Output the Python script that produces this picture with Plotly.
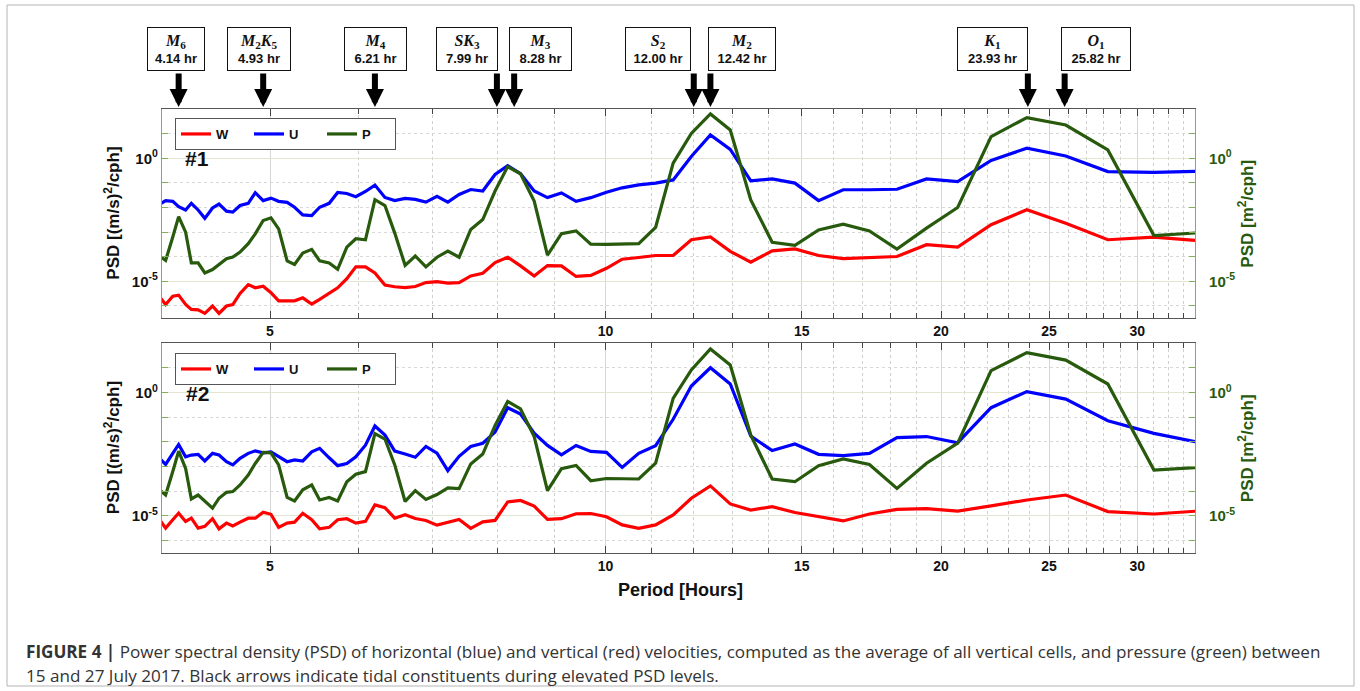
import numpy as np
import plotly.graph_objects as go

# ---------------- data ----------------
period_hr = [3.98, 4.03, 4.09, 4.14, 4.20, 4.25, 4.31, 4.37, 4.44, 4.50,
             4.57, 4.63, 4.70, 4.78, 4.85, 4.93, 5.01, 5.09, 5.18, 5.26,
             5.35, 5.45, 5.54, 5.65, 5.75, 5.86, 5.97, 6.09, 6.21, 6.34,
             6.47, 6.61, 6.75, 6.90, 7.06, 7.22, 7.39, 7.57, 7.76, 7.96,
             8.17, 8.39, 8.63, 8.87, 9.13, 9.41, 9.70, 10.02, 10.35, 10.71,
             11.09, 11.50, 11.94, 12.42, 12.94, 13.50, 14.11, 14.79, 15.53, 16.34,
             17.25, 18.26, 19.41, 20.70, 22.18, 23.88, 25.88, 28.23, 31.05, 34.50]

# log10 of PSD, site #1
W1_log10 = [-5.63, -5.94, -5.60, -5.56, -5.94, -6.14, -6.16, -6.30, -6.00, -6.30,
            -6.00, -5.94, -5.49, -5.13, -5.26, -5.20, -5.46, -5.79, -5.79, -5.79,
            -5.67, -5.92, -5.73, -5.49, -5.26, -4.89, -4.41, -4.41, -4.66, -5.15,
            -5.22, -5.25, -5.21, -5.05, -5.01, -5.07, -5.05, -4.78, -4.67, -4.24,
            -4.02, -4.37, -4.78, -4.36, -4.37, -4.80, -4.76, -4.47, -4.10, -4.03,
            -3.95, -3.95, -3.31, -3.20, -3.78, -4.22, -3.76, -3.68, -3.95, -4.08,
            -4.05, -3.99, -3.51, -3.61, -2.70, -2.09, -2.64, -3.31, -3.20, -3.37]
U1_log10 = [-1.88, -1.72, -1.75, -1.97, -2.10, -1.83, -2.10, -2.44, -2.02, -1.86,
            -2.15, -2.19, -1.92, -1.83, -1.40, -1.72, -1.62, -1.75, -1.79, -1.99,
            -2.30, -2.33, -1.99, -1.83, -1.39, -1.43, -1.56, -1.35, -1.09, -1.59,
            -1.72, -1.63, -1.67, -1.78, -1.55, -1.78, -1.47, -1.27, -1.33, -0.66,
            -0.30, -0.63, -1.33, -1.60, -1.41, -1.75, -1.60, -1.38, -1.20, -1.08,
            -1.01, -0.88, 0.07, 0.95, 0.36, -0.92, -0.84, -1.01, -1.72, -1.28,
            -1.28, -1.26, -0.84, -0.95, -0.09, 0.41, 0.09, -0.54, -0.57, -0.52]
P1_log10 = [-3.98, -4.15, -3.20, -2.37, -3.00, -4.25, -4.25, -4.66, -4.52, -4.31,
            -4.08, -4.01, -3.81, -3.47, -3.07, -2.53, -2.42, -2.87, -4.17, -4.31,
            -3.85, -3.70, -4.17, -4.25, -4.51, -3.61, -3.27, -3.31, -1.68, -1.92,
            -3.04, -4.35, -3.97, -4.41, -4.02, -3.77, -4.02, -2.89, -2.49, -1.33,
            -0.34, -0.63, -1.74, -3.93, -3.06, -2.95, -3.49, -3.50, -3.50, -3.47,
            -2.81, -0.20, 1.01, 1.80, 1.15, -1.69, -3.41, -3.54, -2.91, -2.68,
            -2.95, -3.69, -2.84, -2.00, 0.88, 1.65, 1.35, 0.34, -3.14, -3.01]

# log10 of PSD, site #2
W2_log10 = [-5.15, -5.49, -5.15, -4.89, -5.22, -5.09, -5.49, -5.42, -5.11, -5.52,
            -5.29, -5.40, -5.25, -5.09, -5.09, -4.85, -4.93, -5.46, -5.29, -5.25,
            -4.89, -5.15, -5.52, -5.46, -5.15, -5.11, -5.29, -5.22, -4.55, -4.66,
            -5.09, -4.95, -5.10, -5.18, -5.37, -5.25, -5.14, -5.50, -5.24, -5.18,
            -4.43, -4.37, -4.60, -5.14, -5.11, -4.91, -4.90, -5.03, -5.36, -5.50,
            -5.36, -4.96, -4.28, -3.78, -4.51, -4.76, -4.62, -4.86, -5.03, -5.20,
            -4.92, -4.73, -4.70, -4.80, -4.59, -4.35, -4.15, -4.82, -4.92, -4.78]
U2_log10 = [-2.66, -2.91, -2.46, -2.10, -2.60, -2.53, -2.50, -2.77, -2.46, -2.53,
            -2.80, -2.93, -2.66, -2.46, -2.36, -2.44, -2.40, -2.60, -2.80, -2.73,
            -2.77, -2.40, -2.26, -2.64, -2.96, -2.87, -2.60, -2.13, -1.35, -1.72,
            -2.37, -2.49, -2.62, -2.18, -2.45, -3.16, -2.58, -2.18, -2.05, -1.60,
            -0.61, -0.87, -1.64, -2.14, -2.52, -2.14, -2.38, -2.42, -3.03, -2.46,
            -2.15, -1.08, 0.27, 1.01, 0.35, -1.76, -2.35, -2.08, -2.50, -2.55,
            -2.46, -1.82, -1.78, -2.03, -0.61, 0.04, -0.26, -1.14, -1.65, -2.07]
P2_log10 = [-3.94, -4.15, -3.20, -2.37, -3.07, -4.31, -4.15, -4.41, -4.68, -4.28,
            -4.04, -4.01, -3.74, -3.34, -2.87, -2.42, -2.44, -2.93, -4.25, -4.39,
            -3.94, -3.74, -4.35, -4.25, -4.39, -3.61, -3.31, -3.20, -1.66, -1.88,
            -2.93, -4.41, -3.97, -4.33, -4.13, -3.86, -3.89, -2.89, -2.49, -1.33,
            -0.36, -0.66, -1.78, -3.97, -3.08, -2.95, -3.57, -3.48, -3.48, -3.50,
            -2.86, -0.23, 0.92, 1.77, 1.12, -1.72, -3.50, -3.61, -2.96, -2.69,
            -2.91, -3.88, -2.86, -2.05, 0.89, 1.62, 1.32, 0.35, -3.14, -3.01]

x_tick_vals = [5, 10, 15, 20, 25, 30]
x_tick_text = ["5", "10", "15", "20", "25", "30"]
x_minor_vals = [6, 7, 8, 9, 11, 12, 13, 14, 16, 17, 18, 19, 21, 22, 23, 24,
                26, 27, 28, 29, 31, 32, 33]
y_tick_vals = [1, 1e-5]
y_tick_text = ["10<sup>0</sup>", "10<sup>-5</sup>"]
y_minor_vals = [1e-6, 1e-4, 1e-3, 1e-2, 1e-1, 10]

constituent_names = ["<i>M</i><sub>6</sub>", "<i>M</i><sub>2</sub><i>K</i><sub>5</sub>",
                     "<i>M</i><sub>4</sub>", "<i>SK</i><sub>3</sub>", "<i>M</i><sub>3</sub>",
                     "<i>S</i><sub>2</sub>", "<i>M</i><sub>2</sub>", "<i>K</i><sub>1</sub>",
                     "<i>O</i><sub>1</sub>"]
constituent_periods = [4.14, 4.93, 6.21, 7.99, 8.28, 12.00, 12.42, 23.93, 25.82]
constituent_labels = ["4.14 hr", "4.93 hr", "6.21 hr", "7.99 hr", "8.28 hr",
                      "12.00 hr", "12.42 hr", "23.93 hr", "25.82 hr"]

# ---------------- styling / layout helpers ----------------
W, H = 1360, 691
L, R, T, B = 162, 1195, 109, 553


def px(xp):
    return (xp - L) / (R - L)


def py(yp):
    return (B - yp) / (B - T)


RED, BLUE, GREEN = "#ff0000", "#0000ff", "#275a0c"
AX_GREEN = "#86ad5c"
FONT = "Liberation Sans"

p1_dom = [py(318.3), 1.0]
p2_dom = [0.0, py(343.3)]

fig = go.Figure()


def to_psd(arr):
    return np.power(10.0, np.array(arr))


series = [
    ("W", W1_log10, RED, "x", "y", "legend"),
    ("U", U1_log10, BLUE, "x", "y", "legend"),
    ("P", P1_log10, GREEN, "x", "y2", "legend"),
    ("W", W2_log10, RED, "x2", "y3", "legend2"),
    ("U", U2_log10, BLUE, "x2", "y3", "legend2"),
    ("P", P2_log10, GREEN, "x2", "y4", "legend2"),
]
for name, vals, col, xa, ya, lg in series:
    fig.add_trace(go.Scatter(x=period_hr, y=to_psd(vals), mode="lines", name=name,
                             line=dict(color=col, width=3.2), xaxis=xa, yaxis=ya,
                             legend=lg, showlegend=True))

xrange_ = [np.log10(4.0), np.log10(33.8)]
yrange_ = [-6.5, 2.0]


def xaxis_cfg(anchor):
    return dict(type="log", range=xrange_, anchor=anchor, domain=[0, 1],
                tickmode="array", tickvals=x_tick_vals, ticktext=x_tick_text,
                ticks="inside", ticklen=7, tickwidth=1, tickcolor="#444",
                showline=True, linecolor="#555", linewidth=1.2, mirror="ticks",
                showgrid=True, gridcolor="#d6d6d6", gridwidth=1,
                tickfont=dict(family=FONT, size=14, color="#111", weight="bold"),
                minor=dict(tickmode="array", tickvals=x_minor_vals, ticks="inside",
                           ticklen=5, tickcolor="#444", showgrid=True,
                           griddash="dot", gridcolor="#cfcfcf", gridwidth=1),
                zeroline=False)


def yaxis_left(anchor, dom):
    return dict(type="log", range=yrange_, anchor=anchor, domain=dom,
                tickmode="array", tickvals=y_tick_vals, ticktext=y_tick_text,
                ticks="inside", ticklen=6, tickcolor=AX_GREEN,
                showline=True, linecolor=AX_GREEN, linewidth=1.2, mirror=False,
                showgrid=True, gridcolor="#e4e4d2", gridwidth=1.2,
                tickfont=dict(family=FONT, size=15, color="#111", weight="bold"),
                minor=dict(tickmode="array", tickvals=y_minor_vals, ticks="inside",
                           ticklen=6, tickcolor=AX_GREEN, showgrid=True,
                           griddash="dot", gridcolor="#d8d8d8", gridwidth=1),
                zeroline=False)


def yaxis_right(anchor, over):
    return dict(type="log", range=yrange_, anchor=anchor, overlaying=over, side="right",
                tickmode="array", tickvals=y_tick_vals, ticktext=y_tick_text,
                ticks="inside", ticklen=6, tickcolor=AX_GREEN,
                showline=True, linecolor=AX_GREEN, linewidth=1.2,
                showgrid=False, ticklabelstandoff=10,
                tickfont=dict(family=FONT, size=15, color=GREEN, weight="bold"),
                minor=dict(tickmode="array", tickvals=y_minor_vals, ticks="inside",
                           ticklen=6, tickcolor=AX_GREEN, showgrid=False),
                zeroline=False)


legend_common = dict(orientation="h", xanchor="left", yanchor="top",
                     bgcolor="white", bordercolor="#555", borderwidth=1,
                     font=dict(family=FONT, size=13, color="#111", weight="bold"),
                     entrywidth=28, entrywidthmode="pixels", tracegroupgap=0)

fig.update_layout(
    width=W, height=H,
    margin=dict(l=L, r=W - R, t=T, b=H - B),
    paper_bgcolor="white", plot_bgcolor="white",
    xaxis=xaxis_cfg("y"),
    xaxis2=xaxis_cfg("y3"),
    yaxis=yaxis_left("x", p1_dom),
    yaxis2=yaxis_right("x", "y"),
    yaxis3=yaxis_left("x2", p2_dom),
    yaxis4=yaxis_right("x2", "y3"),
    legend=dict(x=px(175), y=py(118), **legend_common),
    legend2=dict(x=px(175), y=py(353), **legend_common),
    showlegend=True,
)

ann = []


def label(text, xp, yp, size, color="#111", angle=0, xa="center", ya="middle"):
    return dict(text=text, xref="paper", yref="paper", x=px(xp), y=py(yp),
                xanchor=xa, yanchor=ya, showarrow=False, textangle=angle,
                font=dict(family=FONT, size=size, color=color))


# panel labels
ann.append(label("<b>#1</b>", 197, 158, 21))
ann.append(label("<b>#2</b>", 197, 393, 21))
# axis titles
for yc in [(109 + 318.3) / 2, (343.3 + 553) / 2]:
    ann.append(label("<b>PSD [(m/s)<sup>2</sup>/cph]</b>", 112, yc, 17, angle=-90))
    ann.append(label("<b>PSD [m<sup>2</sup>/cph]</b>", 1246, yc, 17, color=GREEN, angle=-90))
ann.append(label("<b>Period [Hours]</b>", 680, 590, 18))

# constituent boxes and arrows
box_cx = [175.5, 259, 375.5, 467, 540.5, 658, 742, 992.5, 1096]
box_w = [58, 64, 63, 62, 63, 66, 68, 71, 70]
for name, per, lab, cx, bw in zip(constituent_names, constituent_periods,
                                  constituent_labels, box_cx, box_w):
    ann.append(dict(
        text=("<span style='font-family:Liberation Serif;font-size:16px'><b>%s</b></span><br>"
              "<b>%s</b>") % (name, lab),
        xref="paper", yref="paper", x=px(cx), y=py(49), xanchor="center", yanchor="middle",
        showarrow=False, width=bw - 4, height=40, borderpad=1, align="center",
        bordercolor="#111", borderwidth=1, bgcolor="white",
        font=dict(family=FONT, size=13, color="#111")))
    ann.append(dict(text="", x=np.log10(per), xref="x", y=1.0, yref="paper",
                    showarrow=True, ax=0, ay=-37, axref="pixel", ayref="pixel",
                    arrowhead=2, arrowsize=0.6, arrowwidth=6, arrowcolor="#000",
                    standoff=2))

# caption
cap_font = dict(family="Open Sans", size=17.1, color="#333")
ann.append(dict(text="<b>FIGURE 4 |</b> Power spectral density (PSD) of horizontal (blue) and "
                     "vertical (red) velocities, computed as the average of all vertical cells, "
                     "and pressure (green) between",
                xref="paper", yref="paper", x=px(24), y=py(651), xanchor="left",
                yanchor="middle", showarrow=False, font=cap_font))
ann.append(dict(text="15 and 27 July 2017. Black arrows indicate tidal constituents during "
                     "elevated PSD levels.",
                xref="paper", yref="paper", x=px(24), y=py(675), xanchor="left",
                yanchor="middle", showarrow=False, font=cap_font))
fig.update_layout(annotations=ann)

# figure frame
fig.add_shape(type="rect", xref="paper", yref="paper", x0=px(7), x1=px(1354),
              y0=py(686), y1=py(5), line=dict(color="#b5b5b5", width=1),
              fillcolor="rgba(0,0,0,0)", layer="below")

fig.write_html("out.html")
